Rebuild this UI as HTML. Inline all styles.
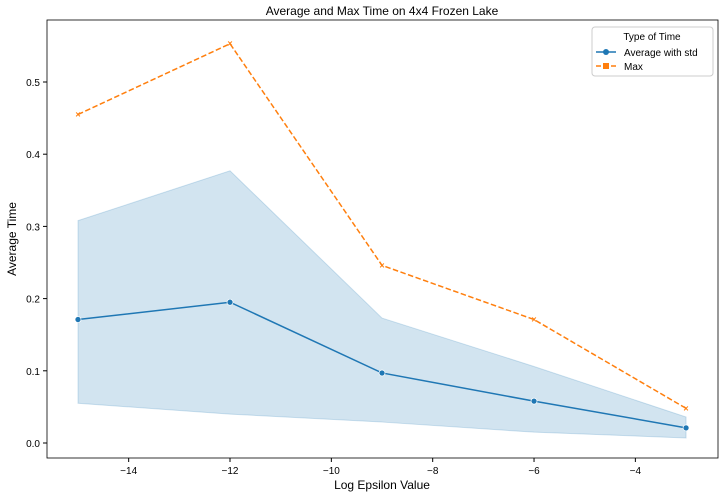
<!DOCTYPE html>
<html><head><meta charset="utf-8"><style>
body{margin:0;background:#fff;font-family:"Liberation Sans","DejaVu Sans",sans-serif}
svg text{font-family:"Liberation Sans","DejaVu Sans",sans-serif}
</style></head><body>
<svg id="c" width="723" height="499" xmlns="http://www.w3.org/2000/svg"></svg>
<script>
const xs=[-15,-12,-9,-6,-3];
const avg=[0.171,0.195,0.097,0.058,0.021];
const mx=[0.455,0.553,0.246,0.171,0.048];
const hi=[0.308,0.377,0.173,0.106,0.036];
const lo=[0.055,0.040,0.029,0.015,0.007];
const xticks=[-14,-12,-10,-8,-6,-4];
const yticks=[0,0.1,0.2,0.3,0.4,0.5];
const L=47,R=718,T=20,B=458;
const X=v=>78+(v+15)*50.67;
const Y=v=>443-v*722;
const s=document.getElementById('c');
const NS='http://www.w3.org/2000/svg';
function el(t,a,p){const e=document.createElementNS(NS,t);for(const k in a)e.setAttribute(k,a[k]);(p||s).appendChild(e);return e;}
let e;
e=el('path',{d:'M'+xs.map((x,i)=>X(x)+','+Y(hi[i])).join('L')+'L'+xs.map((x,i)=>X(x)+','+Y(lo[i])).reverse().join('L')+'Z',fill:'#1f77b4','fill-opacity':0.2,stroke:'#1f77b4','stroke-opacity':0.2});

e=el('polyline',{points:xs.map((x,i)=>X(x)+','+Y(avg[i])).join(' '),fill:'none',stroke:'#1f77b4','stroke-width':1.5});

e=el('polyline',{points:xs.map((x,i)=>X(x)+','+Y(mx[i])).join(' '),fill:'none',stroke:'#ff7f0e','stroke-width':1.5,'stroke-dasharray':'5.5,2.5'});

xs.forEach((x,i)=>{
 e=el('circle',{cx:X(x),cy:Y(avg[i]),r:3,fill:'#1f77b4',stroke:'#fff','stroke-width':0.7});
 
 e=el('text',{x:X(x),y:Y(mx[i])+3,'text-anchor':'middle','font-size':9,fill:'#ff7f0e','font-weight':'bold'});e.textContent='×';
 
});
e=el('rect',{x:L,y:T,width:R-L,height:B-T,fill:'none',stroke:'#000','stroke-width':0.8});

xticks.forEach(v=>{el('line',{x1:X(v),x2:X(v),y1:B,y2:B+4,stroke:'#000'});
 e=el('text',{x:X(v),y:B+16,'text-anchor':'middle','font-size':10});e.textContent='−'+Math.abs(v);
 });
yticks.forEach(v=>{el('line',{x1:L-4,x2:L,y1:Y(v),y2:Y(v),stroke:'#000'});
 e=el('text',{x:L-7,y:Y(v)+4,'text-anchor':'end','font-size':10});e.textContent=v.toFixed(1);
 });
e=el('text',{x:382,y:15,'text-anchor':'middle','font-size':12});e.textContent='Average and Max Time on 4x4 Frozen Lake';

e=el('text',{x:382,y:489,'text-anchor':'middle','font-size':12});e.textContent='Log Epsilon Value';

e=el('text',{x:16,y:239,'text-anchor':'middle','font-size':12,transform:'rotate(-90 16 239)'});e.textContent='Average Time';

const g=el('g',{});
el('rect',{x:592,y:27,width:121,height:49,fill:'#fff',stroke:'#ccc',rx:3},g);
e=el('text',{x:652,y:40,'text-anchor':'middle','font-size':10},g);e.textContent='Type of Time';
el('line',{x1:596,x2:616,y1:52,y2:52,stroke:'#1f77b4','stroke-width':1.5},g);
el('circle',{cx:606,cy:52,r:3,fill:'#1f77b4'},g);
e=el('text',{x:624,y:56,'font-size':10},g);e.textContent='Average with std';
el('line',{x1:596,x2:616,y1:66,y2:66,stroke:'#ff7f0e','stroke-width':1.5,'stroke-dasharray':'5,2.5'},g);
el('rect',{x:603,y:63,width:6,height:6,fill:'#ff7f0e'},g);
e=el('text',{x:624,y:70,'font-size':10},g);e.textContent='Max';
</script>
</body></html>
